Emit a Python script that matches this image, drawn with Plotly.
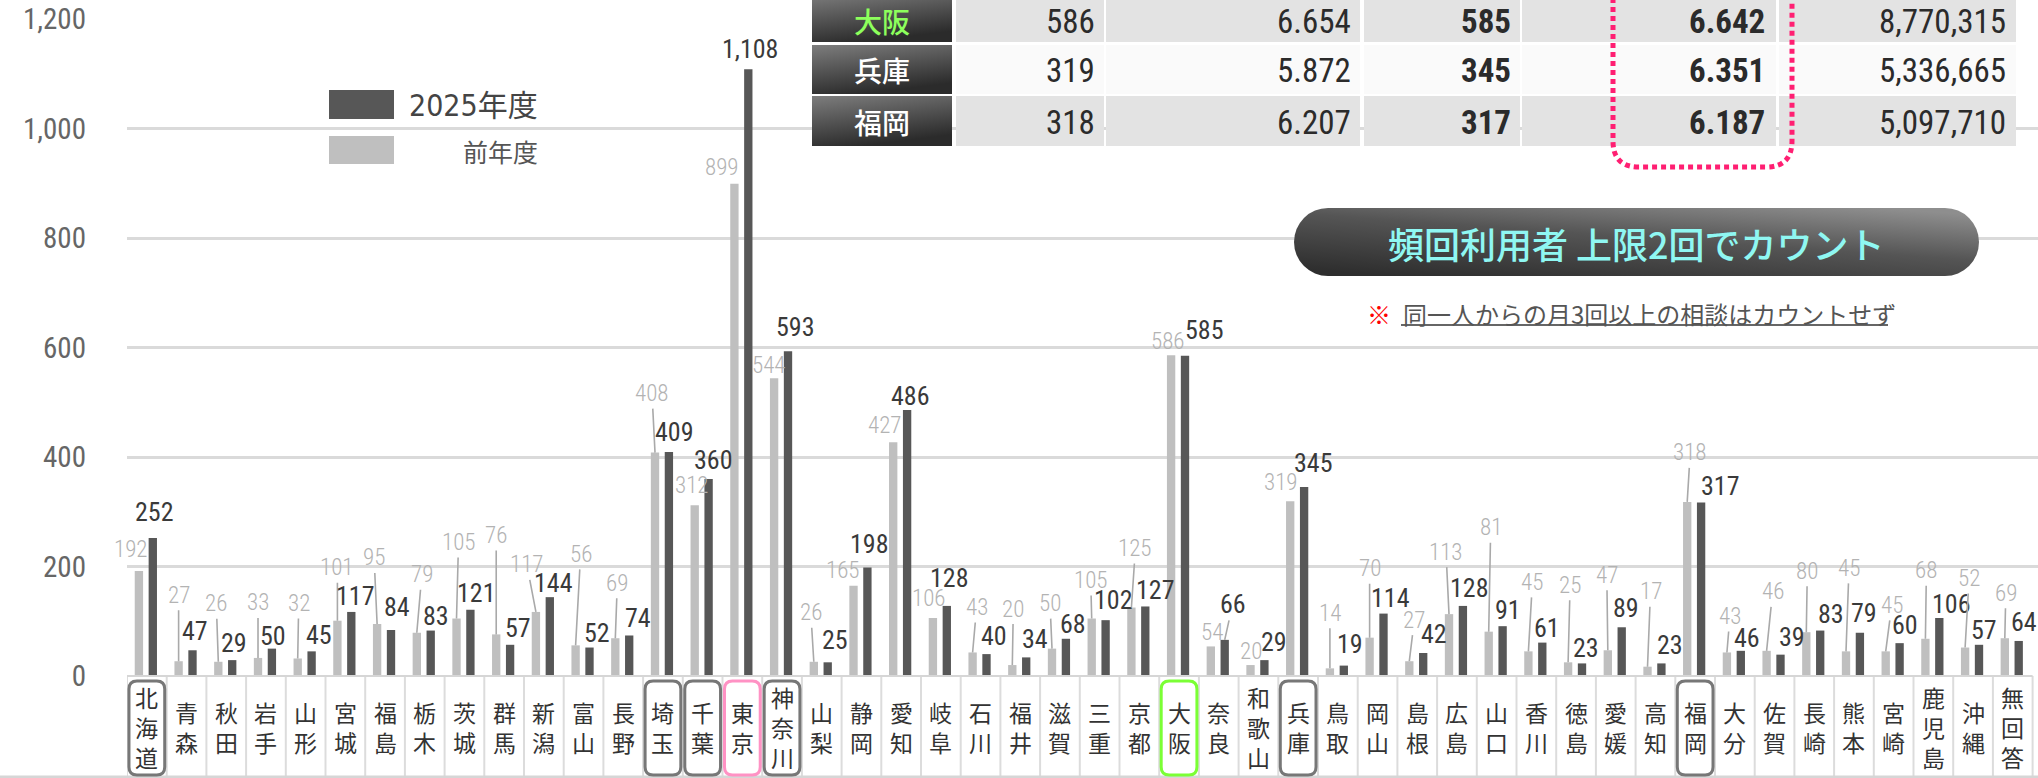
import base64
import plotly.graph_objects as go

# ---------------- data ----------------
categories = ["北海道", "青森", "秋田", "岩手", "山形", "宮城", "福島", "栃木", "茨城", "群馬",
              "新潟", "富山", "長野", "埼玉", "千葉", "東京", "神奈川", "山梨", "静岡", "愛知",
              "岐阜", "石川", "福井", "滋賀", "三重", "京都", "大阪", "奈良", "和歌山", "兵庫",
              "鳥取", "岡山", "島根", "広島", "山口", "香川", "徳島", "愛媛", "高知", "福岡",
              "大分", "佐賀", "長崎", "熊本", "宮崎", "鹿児島", "沖縄", "無回答"]
current = [252, 47, 29, 50, 45, 117, 84, 83, 121, 57,
           144, 52, 74, 409, 360, 1108, 593, 25, 198, 486,
           128, 40, 34, 68, 102, 127, 585, 66, 29, 345,
           19, 114, 42, 128, 91, 61, 23, 89, 23, 317,
           46, 39, 83, 79, 60, 106, 57, 64]
previous = [192, 27, 26, 33, 32, 101, 95, 79, 105, 76,
            117, 56, 69, 408, 312, 899, 544, 26, 165, 427,
            106, 43, 20, 50, 105, 125, 586, 54, 20, 319,
            14, 70, 27, 113, 81, 45, 25, 47, 17, 318,
            43, 46, 80, 45, 45, 68, 52, 69]
series_names = ["2025年度", "前年度"]
y_tick_values = [0, 200, 400, 600, 800, 1000, 1200]
y_tick_labels = ["0", "200", "400", "600", "800", "1,000", "1,200"]

highlight_gray = ["北海道", "埼玉", "千葉", "神奈川", "兵庫", "福岡"]
highlight_pink = ["東京"]
highlight_green = ["大阪"]

table_prefs = ["大阪", "兵庫", "福岡"]
table_prev_count = [586, 319, 318]
table_prev_rate = [6.654, 5.872, 6.207]
table_cur_count = [585, 345, 317]
table_cur_rate = [6.642, 6.351, 6.187]
table_population = [8770315, 5336665, 5097710]

badge_text = "頻回利用者 上限2回でカウント"
note_text = "同一人からの月3回以上の相談はカウントせず"

# ---------------- label placement (pixel offsets: dx, dy, leader line) ----------------
prev_label_pos = [(-8, -21, 0), (0, -66, 1), (-2, -58, 1), (0, -55, 1), (1, -55, 1), (0, -53, 1),
                  (-3, -66, 1), (5, -58, 1), (2, -76, 1), (0, -99, 1), (-9, -47, 1), (5, -91, 1),
                  (2, -55, 1), (-3, -59, 1), (-3, -20, 0), (-12, -16, 0), (-5, -13, 0), (-3, -49, 1),
                  (-11, -15, 0), (-8, -17, 0), (-4, -19, 0), (4, -45, 1), (1, -56, 1), (-2, -45, 1),
                  (-1, -38, 1), (4, -59, 1), (-3, -14, 0), (1, -14, 0), (0, -14, 0), (-9, -19, 0),
                  (0, -55, 1), (0, -69, 1), (5, -41, 1), (-3, -62, 1), (2, -104, 1), (4, -69, 1),
                  (2, -77, 1), (-1, -75, 1), (3, -75, 1), (3, -49, 1), (3, -36, 1), (6, -59, 1),
                  (1, -61, 1), (3, -83, 1), (6, -46, 1), (1, -68, 1), (4, -69, 1), (1, -45, 1)]
cur_label_pos = [(2, -26, 0), (2, -19, 0), (2, -17, 0), (1, -13, 0), (7, -16, 0), (4, -16, 0),
                 (6, -23, 0), (5, -15, 0), (6, -17, 0), (8, -17, 0), (4, -14, 0), (7, -15, 0),
                 (9, -17, 0), (6, -20, 0), (5, -19, 0), (2, -20, 0), (7, -24, 0), (7, -22, 0),
                 (2, -24, 0), (3, -14, 0), (3, -28, 0), (7, -18, 0), (9, -18, 0), (7, -15, 0),
                 (8, -20, 0), (10, -16, 0), (19, -26, 0), (8, -36, 1), (10, -18, 0), (9, -24, 0),
                 (6, -22, 0), (7, -16, 0), (11, -19, 0), (7, -18, 0), (5, -16, 0), (5, -15, 0),
                 (4, -15, 0), (4, -19, 0), (9, -18, 0), (19, -16, 0), (6, -13, 0), (11, -18, 0),
                 (11, -17, 0), (4, -20, 0), (5, -18, 0), (12, -14, 0), (5, -15, 0), (5, -19, 0)]

# ---------------- geometry / style ----------------
W, H = 2038, 778
PL, PT, PB = 127, 19, 676
PW, PH = W - PL, PB - PT
CW = 39.7
X_MAX = -0.5 + PW / CW
BAR_W = 0.21
PREV_OFF, CUR_OFF = -0.305, 0.045

NUM_FONT = "Liberation Sans Narrow, Arial Narrow, Roboto Condensed, DejaVu Sans Condensed, Roboto, sans-serif"
JP_FONT = "Noto Sans CJK JP, sans-serif"
DARK, LIGHT = "#575757", "#bfbfbf"


def px(x):
    return (x - PL) / PW


def py(y):
    return (PB - y) / PH


def svg_uri(svg):
    return "data:image/svg+xml;base64," + base64.b64encode(svg.encode("utf-8")).decode("ascii")


idx = list(range(len(categories)))
fig = go.Figure()
fig.add_trace(go.Bar(x=idx, y=previous, name=series_names[1], width=BAR_W, offset=PREV_OFF,
                     marker=dict(color=LIGHT, line=dict(width=0)), showlegend=False, hoverinfo="y"))
fig.add_trace(go.Bar(x=idx, y=current, name=series_names[0], width=BAR_W, offset=CUR_OFF,
                     marker=dict(color=DARK, line=dict(width=0)), showlegend=False, hoverinfo="y"))

annotations = []
shapes = []
images = []


def fmt(v):
    return f"{v:,}"


def note(x, y, text, font, xanchor="center", yanchor="middle"):
    return dict(x=x, y=y, xref="paper", yref="paper", showarrow=False, text=text,
                xanchor=xanchor, yanchor=yanchor, font=font)


# value labels
for i in idx:
    for vals, pos, off, color, size, weight in (
            (previous, prev_label_pos, PREV_OFF, "#b3b3b3", 23, 300),
            (current, cur_label_pos, CUR_OFF, "#3a3a3a", 26, 400)):
        dx, dy, leader = pos[i]
        xc = i + off + BAR_W / 2
        a = dict(x=xc, y=vals[i], xref="x", yref="y", text=fmt(vals[i]),
                 font=dict(family=NUM_FONT, size=size, color=color, weight=weight))
        if leader:
            a.update(showarrow=True, ax=dx, ay=dy, arrowhead=0, arrowwidth=1.6,
                     arrowcolor="#a9a9a9", standoff=0)
        else:
            a.update(showarrow=False, xshift=dx, yshift=-dy, xanchor="center", yanchor="middle")
        annotations.append(a)

# category table under axis
for i, name in enumerate(categories):
    annotations.append(dict(x=i, y=py(727), xref="x", yref="paper", showarrow=False,
                            text="<br>".join(list(name)), xanchor="center", yanchor="middle",
                            font=dict(family=JP_FONT, size=23, color="#333333")))
for i in range(len(categories) + 1):
    shapes.append(dict(type="line", xref="x", yref="paper", x0=i - 0.5, x1=i - 0.5,
                       y0=py(676), y1=py(777), line=dict(color="#dcdcdc", width=2), layer="above"))
shapes.append(dict(type="line", xref="paper", yref="paper", x0=px(0), x1=px(W), y0=py(777), y1=py(777),
                   line=dict(color="#d6d6d6", width=3), layer="above"))
shapes.append(dict(type="line", xref="x", yref="paper", x0=-0.5, x1=len(categories) - 0.5,
                   y0=py(676), y1=py(676), line=dict(color="#d6d6d6", width=2), layer="above"))


def rounded_box(i, color):
    x0, x1 = i - 0.5 + 0.05, i + 0.5 - 0.05
    y1, y0 = py(681), py(775)
    rx, ry = 8 / CW, 8 / PH
    path = (f"M{x0 + rx},{y1} L{x1 - rx},{y1} Q{x1},{y1} {x1},{y1 - ry} L{x1},{y0 + ry} "
            f"Q{x1},{y0} {x1 - rx},{y0} L{x0 + rx},{y0} Q{x0},{y0} {x0},{y0 + ry} "
            f"L{x0},{y1 - ry} Q{x0},{y1} {x0 + rx},{y1} Z")
    return dict(type="path", xref="x", yref="paper", path=path,
                line=dict(color=color, width=3), layer="above")


for names, col in ((highlight_gray, "#777777"), (highlight_pink, "#ff92c4"), (highlight_green, "#7bff35")):
    for n in names:
        shapes.append(rounded_box(categories.index(n), col))

# legend
shapes.append(dict(type="rect", xref="paper", yref="paper", x0=px(329), x1=px(394), y0=py(119), y1=py(90),
                   fillcolor=DARK, line=dict(width=0), layer="above"))
shapes.append(dict(type="rect", xref="paper", yref="paper", x0=px(329), x1=px(394), y0=py(164), y1=py(136),
                   fillcolor=LIGHT, line=dict(width=0), layer="above"))
annotations.append(note(px(540), py(105), series_names[0],
                        dict(family="DejaVu Sans Condensed, Noto Sans CJK JP", size=30, color="#444444"),
                        xanchor="right"))
annotations.append(note(px(540), py(151), series_names[1],
                        dict(family=JP_FONT, size=25, color="#555555"), xanchor="right"))

# top-right table (partially cut off at the top)
rows_y = [(-6, 42), (45, 94), (96, 146)]
rows_text_y = [21, 70, 122]
row_fill = ["#e3e3e3", "#fafafa", "#e3e3e3"]
cols = [(956, 1104), (1106, 1360), (1364, 1520), (1522, 1776), (1779, 2016)]
head_svg = ("<svg xmlns='http://www.w3.org/2000/svg' width='140' height='49' preserveAspectRatio='none'>"
            "<defs><linearGradient id='g' x1='0' y1='0' x2='0.35' y2='1'>"
            "<stop offset='0' stop-color='#7d7d7d'/><stop offset='1' stop-color='#2b2b2b'/>"
            "</linearGradient></defs><rect width='140' height='49' fill='url(#g)'/></svg>")
for r, (t, b) in enumerate(rows_y):
    images.append(dict(source=svg_uri(head_svg), xref="paper", yref="paper", x=px(812), y=py(t),
                       sizex=(952 - 812) / PW, sizey=(b - t) / PH, xanchor="left", yanchor="top",
                       sizing="stretch", layer="above"))
    for (c0, c1) in cols:
        shapes.append(dict(type="rect", xref="paper", yref="paper", x0=px(c0), x1=px(c1), y0=py(b), y1=py(t),
                           fillcolor=row_fill[r], line=dict(width=0), layer="above"))
    yc = py(rows_text_y[r])
    annotations.append(note(px(882), yc, table_prefs[r],
                            dict(family=JP_FONT, size=28, weight=500,
                                 color="#8dff5c" if table_prefs[r] in highlight_green else "#ffffff")))
    cells = [(fmt(table_prev_count[r]), 1097, 400), (f"{table_prev_rate[r]:.3f}", 1353, 400),
             (fmt(table_cur_count[r]), 1513, 700), (f"{table_cur_rate[r]:.3f}", 1767, 700),
             (fmt(table_population[r]), 2008, 400)]
    for txt, xr, wgt in cells:
        annotations.append(note(px(xr), yc, txt,
                                dict(family=NUM_FONT, size=33, color="#2b2b2b", weight=wgt),
                                xanchor="right"))

# pink dotted bracket
bx0, bx1, by1, rr = 1613, 1792, 167, 26
path = (f"M{px(bx0)},{py(-2)} L{px(bx0)},{py(by1 - rr)} Q{px(bx0)},{py(by1)} {px(bx0 + rr)},{py(by1)} "
        f"L{px(bx1 - rr)},{py(by1)} Q{px(bx1)},{py(by1)} {px(bx1)},{py(by1 - rr)} L{px(bx1)},{py(-2)}")
shapes.append(dict(type="path", xref="paper", yref="paper", path=path,
                   line=dict(color="#ff1f72", width=5, dash="5px,4px"), layer="above"))

# badge
pill_svg = ("<svg xmlns='http://www.w3.org/2000/svg' width='685' height='68' preserveAspectRatio='none'>"
            "<defs><linearGradient id='p' x1='0.15' y1='1' x2='0.85' y2='0'>"
            "<stop offset='0' stop-color='#2e2e2e'/><stop offset='0.55' stop-color='#555555'/>"
            "<stop offset='1' stop-color='#8e8e8e'/></linearGradient></defs>"
            "<rect x='0' y='0' width='685' height='68' rx='34' ry='34' fill='url(#p)'/></svg>")
images.append(dict(source=svg_uri(pill_svg), xref="paper", yref="paper", x=px(1294), y=py(208),
                   sizex=685 / PW, sizey=68 / PH, xanchor="left", yanchor="top", sizing="stretch", layer="above"))
annotations.append(note(px(1636), py(243), badge_text,
                        dict(family=JP_FONT, size=36, weight=500, color="#8ff7f2")))

# note
annotations.append(note(px(1393), py(313), "※", dict(family=JP_FONT, size=24, color="#ff0000"),
                        xanchor="right"))
annotations.append(note(px(1401), py(313), note_text, dict(family=JP_FONT, size=24, color="#555555"),
                        xanchor="left"))
shapes.append(dict(type="line", xref="paper", yref="paper", x0=px(1401), x1=px(1888), y0=py(325), y1=py(325),
                   line=dict(color="#666666", width=2), layer="above"))

fig.update_layout(
    width=W, height=H, margin=dict(l=PL, r=0, t=PT, b=H - PB, pad=0),
    paper_bgcolor="white", plot_bgcolor="white", barmode="overlay",
    showlegend=False, annotations=annotations, shapes=shapes, images=images,
    xaxis=dict(range=[-0.5, X_MAX], showticklabels=False, showgrid=False, zeroline=False,
               showline=False, ticks=""),
    yaxis=dict(range=[0, 1200], tickvals=y_tick_values, ticktext=y_tick_labels, showgrid=True,
               gridcolor="#dadada", gridwidth=2.5, zeroline=False, showline=False, ticks="",
               ticklabelstandoff=40,
               tickfont=dict(family=NUM_FONT, size=29, color="#666666")),
)
fig.write_html("out.html", config={"displayModeBar": False},
               post_script="document.body.style.margin='0px';"
                           "document.body.style.overflow='hidden';"
                           "document.documentElement.style.overflow='hidden';")
